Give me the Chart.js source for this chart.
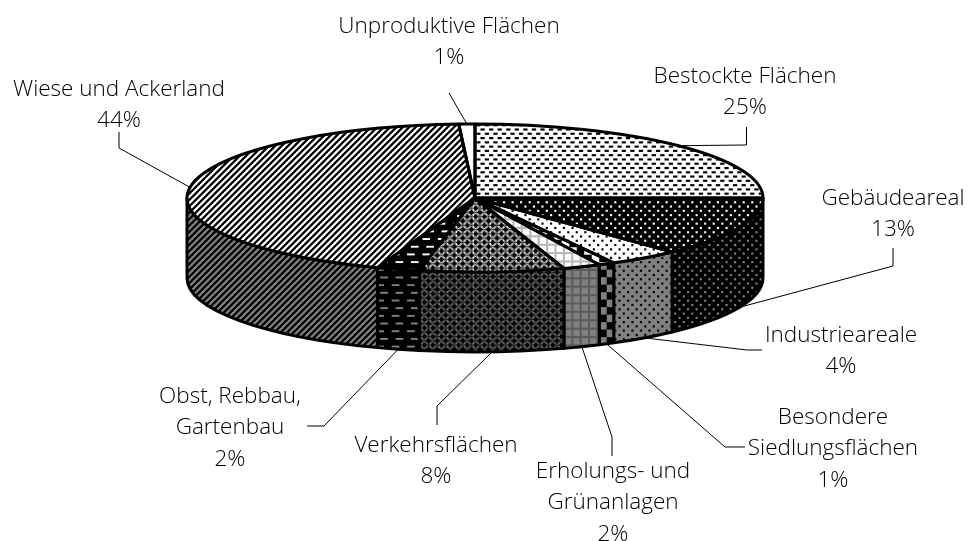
<!DOCTYPE html>
<html><head><meta charset="utf-8">
<style>html,body{margin:0;padding:0;background:#fff}canvas{display:block}</style>
<script src="https://cdn.jsdelivr.net/npm/chart.js@4"></script>
</head><body>
<canvas id="c" width="968" height="541"></canvas>
<script>
// ---- data ----
const categories = ["Bestockte Flächen","Gebäudeareal","Industrieareale","Besondere Siedlungsflächen","Erholungs- und Grünanlagen","Verkehrsflächen","Obst, Rebbau, Gartenbau","Wiese und Ackerland","Unproduktive Flächen"];
const shares = [25, 13, 4, 0.9, 2.1, 8.1, 2.4, 43.6, 0.9];
const labelLines = [["Bestockte Flächen"],["Gebäudeareal"],["Industrieareale"],["Besondere","Siedlungsflächen"],["Erholungs- und","Grünanlagen"],["Verkehrsflächen"],["Obst, Rebbau,","Gartenbau"],["Wiese und Ackerland"],["Unproduktive Flächen"]];

// ---- layout of the flattened pie ----
const CX = 475, CY = 198, RX = 288, RY = 74, DEPTH = 80;
const labelAnchor = [[745,75],[893,197],[841,334],[833,416],[613,470],[436,444],[230,395],[119,88],[449,25]];
const leaderBends = [[[746.5,145],[746.5,127]],[[893,266],[893,248]],[[747,350],[762,350]],[[725,447],[745,447]],[[612,437],[612,456]],[[437,406],[437,425]],[[324,426],[307,426]],[[119,148],[119,132]],[[449,93]]];
const LINE_H = 31.5;

// ---- hatch tiles: # black, x dark grey, + grey line, . background ----
const tiles = [
 {s:1.07,t:[".####...",".####...","........","........","#....###","#....###","........","........"]},
 {s:1.07,t:["##..####","##..####","########","########","######..","######..","########","########"]},
 {s:1.07,t:["..##....","..##....","........","........","......##","......##","........","........"]},
 {s:1.07,t:["#######.......","#######.......","#######.......","#######.......","#######.......","#######.......","#######.......",".......#######",".......#######",".......#######",".......#######",".......#######",".......#######",".......#######"]},
 {s:1.05,t:["++++++++","++++++++","++......","++......","++......","++......","++......","++......"]},
 {s:1.07,t:["#x.x#x.x","xx.###xx","#x#####x","xx.###xx","#x.x#x.x","##xx.xx#","###x#x##","##xx.xx#"]},
 {s:0.96,t:["....########....","....########....","################","################","################","################","################","################","########........","########........","################","################","################","################","################","################"]},
 {s:0.8,t:["####....",".####...","..####..","...####.","....####","#....###","##....##","###....#"].map(r=>r.split("").reverse().join(""))},
 {s:1,t:["."]}
];
function makePattern(ctx, def, bg){
  const h=def.t.length,w=def.t[0].length;
  const off=document.createElement('canvas');off.width=w;off.height=h;
  const g=off.getContext('2d');
  const levels={'#':0,'x':Math.round(bg*0.5),'+':Math.round(bg*0.72),'.':bg};
  for(let y=0;y<h;y++)for(let x=0;x<w;x++){
    const v=levels[def.t[y][x]];
    g.fillStyle=`rgb(${v},${v},${v})`;g.fillRect(x,y,1,1);
  }
  return ctx.createPattern(off,'repeat');
}
const canvas=document.getElementById('c');
const ctx0=canvas.getContext('2d');
ctx0.imageSmoothingEnabled=true;
const topPatterns=tiles.map(d=>makePattern(ctx0,d,255));
const wallPatterns=tiles.map(d=>makePattern(ctx0,d,128));

function flat(arc){
  return new DOMMatrix().translate(CX,CY).scale(RX/arc.outerRadius,RY/arc.outerRadius).translate(-arc.x,-arc.y);
}
const pie3d={
  id:'pie3d',
  beforeDatasetsDraw(chart){
    const c=chart.ctx, arcs=chart.getDatasetMeta(0).data;
    c.save();
    c.imageSmoothingEnabled=true;
    c.lineWidth=3;c.strokeStyle='#000';c.lineJoin='round';
    wallPatterns.forEach((p,i)=>p.setTransform(new DOMMatrix().scale(tiles[i].s)));
    arcs.forEach((a,i)=>{
      const s=Math.max(a.startAngle,0),e=Math.min(a.endAngle,Math.PI);
      if(e<=s)return;
      c.beginPath();
      c.ellipse(CX,CY,RX,RY,0,s,e);
      c.ellipse(CX,CY+DEPTH,RX,RY,0,e,s,true);
      c.closePath();
      c.fillStyle=wallPatterns[i];c.fill();c.stroke();
    });
    c.restore();
    const m=flat(arcs[0]);
    topPatterns.forEach((p,i)=>p.setTransform(m.inverse().scale(tiles[i].s)));
    c.save();
    c.imageSmoothingEnabled=true;
    c.setTransform(m);
  },
  afterDatasetsDraw(chart){
    const c=chart.ctx, arcs=chart.getDatasetMeta(0).data;
    c.restore();
    c.save();
    c.lineWidth=3;c.strokeStyle='#000';c.lineJoin='round';
    arcs.forEach(a=>{
      c.beginPath();
      c.moveTo(CX,CY);
      c.ellipse(CX,CY,RX,RY,0,a.startAngle,a.endAngle);
      c.closePath();c.stroke();
    });
    c.restore();
  },
  afterDraw(chart){
    const c=chart.ctx, arcs=chart.getDatasetMeta(0).data;
    c.save();
    c.strokeStyle='#000';c.lineWidth=1;
    arcs.forEach((a,i)=>{
      const mid=(a.startAngle+a.endAngle)/2;
      const norm=((mid%(2*Math.PI))+2*Math.PI)%(2*Math.PI);
      const front=norm>0&&norm<Math.PI;
      const x=CX+RX*Math.cos(mid),y=CY+RY*Math.sin(mid)+(front?DEPTH:0);
      c.beginPath();c.moveTo(x,y);
      leaderBends[i].forEach(b=>c.lineTo(b[0],b[1]));
      c.stroke();
    });
    c.fillStyle='#000';c.font='300 22.5px "Open Sans"';c.textAlign='center';c.textBaseline='alphabetic';
    labelLines.forEach((lines,i)=>{
      const [x,y]=labelAnchor[i];
      lines.forEach((t,j)=>c.fillText(t,x,y+7.5+j*LINE_H));
      c.fillText(Math.round(shares[i])+'%',x,y+7.5+lines.length*LINE_H);
    });
    c.restore();
  }
};
new Chart(canvas,{
  type:'pie',
  data:{labels:categories,datasets:[{data:shares,backgroundColor:topPatterns,borderWidth:0,clip:false}]},
  options:{responsive:false,animation:false,layout:{padding:0},
    plugins:{legend:{display:false},tooltip:{enabled:false},title:{display:false}}},
  plugins:[pie3d]
});
</script>
</body></html>
